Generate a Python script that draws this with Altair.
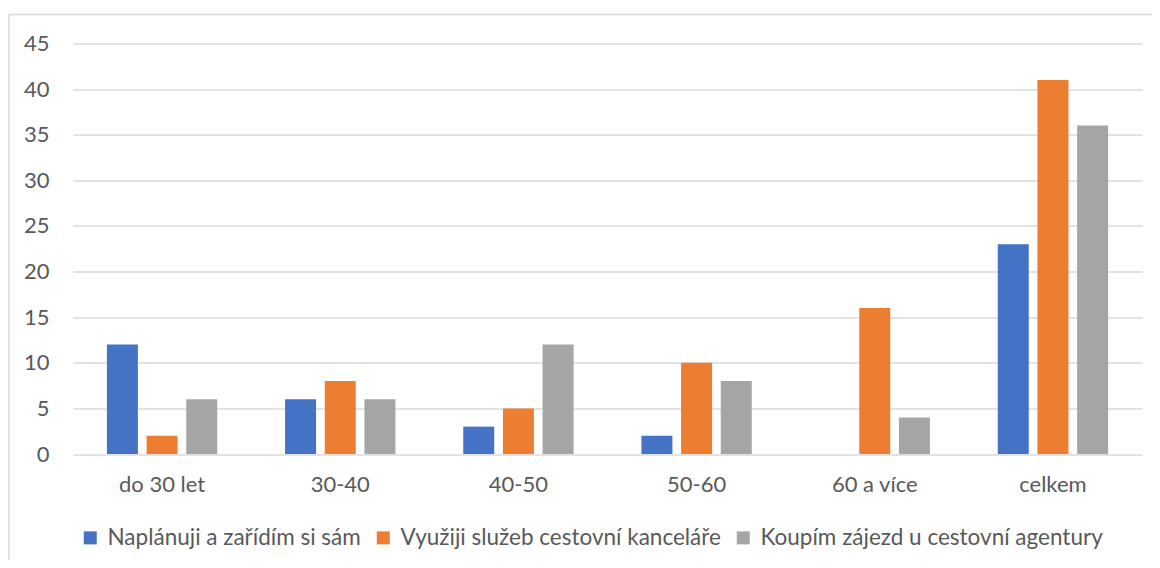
import altair as alt
import pandas as pd

categories = ["do 30 let", "30-40", "40-50", "50-60", "60 a více", "celkem"]
series = ["Naplánuji a zařídím si sám", "Využiji služeb cestovní kanceláře", "Koupím zájezd u cestovní agentury"]
naplanuji = [12, 6, 3, 2, 0, 23]
vyuziji = [2, 8, 5, 10, 16, 41]
koupim = [6, 6, 12, 8, 4, 36]
colors = ["#4472C4", "#ED7D31", "#A5A5A5"]
y_ticks = [0, 5, 10, 15, 20, 25, 30, 35, 40, 45]

rows = []
for s, vals in zip(series, [naplanuji, vyuziji, koupim]):
    for c, v in zip(categories, vals):
        rows.append({"kategorie": c, "serie": s, "hodnota": v})
df = pd.DataFrame(rows)

FONT = "Lato"
TXT = "#595959"
FS = 22

border = alt.Chart(pd.DataFrame({"a": [0]})).mark_rect(
    fill=None, stroke="#D9D9D9", strokeWidth=1.5
).encode(x=alt.value(-64), x2=alt.value(1200), y=alt.value(-29), y2=alt.value(700))

bars = alt.Chart(df).mark_bar(size=31).encode(
    x=alt.X("kategorie:N", sort=categories, title=None,
            scale=alt.Scale(paddingInner=0.382, paddingOuter=0.191),
            axis=alt.Axis(labelAngle=0, labelFont=FONT, labelFontSize=FS, labelColor=TXT,
                          domain=False, ticks=False, labelPadding=20, grid=False)),
    xOffset=alt.XOffset("serie:N", sort=series,
                        scale=alt.Scale(paddingInner=0.225, paddingOuter=0)),
    y=alt.Y("hodnota:Q", title=None,
            scale=alt.Scale(domain=[0, 45], nice=False),
            axis=alt.Axis(values=y_ticks, labelFont=FONT, labelFontSize=FS, labelColor=TXT,
                          domain=False, ticks=False, labelPadding=24,
                          gridColor="#D9D9D9", gridWidth=1.5)),
    color=alt.Color("serie:N", sort=series, title=None,
                    scale=alt.Scale(domain=series, range=colors),
                    legend=alt.Legend(orient="none", direction="horizontal",
                                      legendX=6, legendY=483,
                                      symbolType="square", symbolSize=169,
                                      symbolStrokeWidth=0,
                                      labelFont=FONT, labelFontSize=22.5, labelColor=TXT,
                                      labelLimit=700, labelOffset=6,
                                      columnPadding=11, symbolOffset=0)),
)

chart = alt.layer(border, bars).properties(
    width=1069, height=410.5,
    padding={"left": 65, "top": 35.5, "right": 10, "bottom": 106},
    autosize=alt.AutoSizeParams(type="none"),
).configure(background="white", view=alt.ViewConfig(stroke=None))

chart.save("out.html", embed_options={"renderer": "svg", "actions": False})
